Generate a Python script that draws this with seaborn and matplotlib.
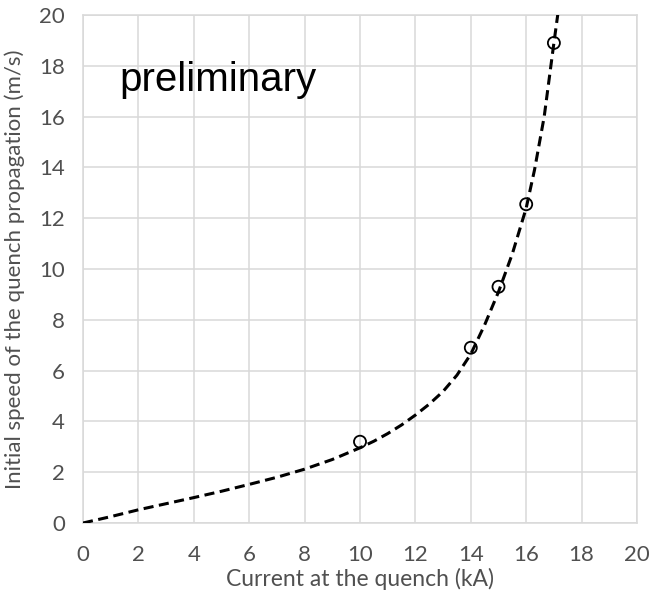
import matplotlib
matplotlib.use("Agg")
import matplotlib.pyplot as plt
import seaborn as sns
import pandas as pd

# Fitted curve
curve_current = [0, 1, 2, 3, 4, 5, 6, 7, 8, 9, 10, 10.5, 11, 11.5, 12, 12.5, 13, 13.5,
                 14, 14.5, 15, 15.5, 16, 16.3, 16.65, 17, 17.2]
curve_speed = [0, 0.25, 0.52, 0.76, 1.0, 1.25, 1.52, 1.8, 2.12, 2.5, 2.96, 3.22, 3.52,
               3.86, 4.25, 4.68, 5.18, 5.82, 6.65, 7.8, 9.1, 10.6, 12.4, 13.9, 16.0,
               18.9, 20.5]

# Measured points
meas_current = [10, 14, 15, 16, 17]
meas_speed = [3.2, 6.9, 9.3, 12.55, 18.9]

x_ticks = [0, 2, 4, 6, 8, 10, 12, 14, 16, 18, 20]
y_ticks = [0, 2, 4, 6, 8, 10, 12, 14, 16, 18, 20]

sns.set_style("white")
plt.rcParams['font.family'] = ['Lato', 'DejaVu Sans']

fig = plt.figure(figsize=(6.49, 6.00), dpi=100)
ax = fig.add_axes([83/649, 1 - 523/600, (637 - 83)/649, (523 - 15)/600])

curve_df = pd.DataFrame({"I": curve_current, "v": curve_speed})
meas_df = pd.DataFrame({"I": meas_current, "v": meas_speed})

sns.lineplot(data=curve_df, x="I", y="v", ax=ax, color="black", lw=2.2,
             linestyle=(0, (3.3, 1.8)), sort=False, zorder=3)
sns.scatterplot(data=meas_df, x="I", y="v", ax=ax, s=75, facecolors="none",
                edgecolor="black", linewidth=1.3, zorder=4)

ax.set_xlim(0, 20)
ax.set_ylim(0, 20)
ax.set_xticks(x_ticks)
ax.set_yticks(y_ticks)
ax.grid(True, color="#d9d9d9", linewidth=1.1)
ax.set_axisbelow(True)
for s in ax.spines.values():
    s.set_color("#d9d9d9")
    s.set_linewidth(1.1)
ax.tick_params(axis="both", length=0, labelsize=16, colors="#505050")
ax.tick_params(axis="x", pad=16)
ax.tick_params(axis="y", pad=13)
ax.set_xlabel("Current at the quench (kA)", fontsize=16.5, color="#505050", labelpad=2)
ax.set_ylabel("Initial speed of the quench propagation (m/s)", fontsize=16,
              color="#505050", labelpad=10)

ax.text(1.3, 17.0, "preliminary", fontsize=29, family=["Liberation Sans"],
        ha="left", va="baseline", color="black")

fig.savefig("out.png", dpi=100)
